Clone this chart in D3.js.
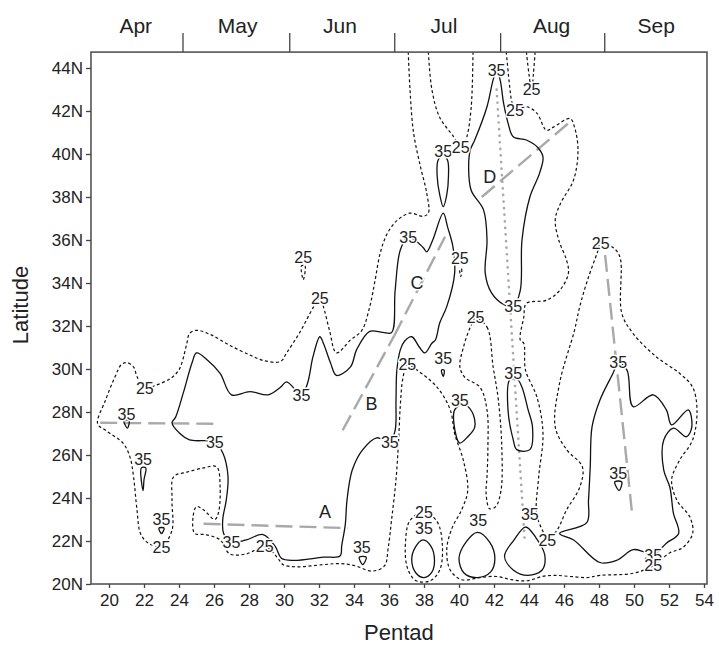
<!DOCTYPE html>
<html>
<head>
<meta charset="utf-8">
<script src="https://cdn.jsdelivr.net/npm/d3@7"></script>
<style>
body { margin: 0; background: #fff; }
text { font-family: "Liberation Sans", Arial, sans-serif; }
</style>
</head>
<body>
<script>
// frame extents (pentad, latitude)
var pentadLo = 18.97, pentadHi = 54.17, latLo = 20, latHi = 44.74;
var xTicks = d3.range(20, 55, 2);
var yTicks = d3.range(20, 45, 2);
var months = ["Apr", "May", "Jun", "Jul", "Aug", "Sep"];
var monthMid = [21.53, 27.35, 33.2, 39.14, 45.29, 51.27];
var monthEdge = [24.2, 30.3, 36.3, 42.35, 48.3];

// 25 contour, open lines [pentad, lat]
var c25lines = [
  // the long one: top edge, round the west, along the bottom, round Sep
  [[37.1,44.75],[37.2,43.0],[37.4,41.0],[37.8,39.4],[38.15,38.2],[38.25,37.25],[37.95,37.1],[37.2,37.25],
   [36.45,36.9],[35.9,36.3],[35.5,35.4],[35.2,34.1],[34.9,32.9],[34.45,31.8],[33.8,31.35],[33.0,30.75],
   [32.6,31.8],[32.25,32.9],[32.05,33.3],[31.7,32.9],[30.9,31.7],[30.15,30.75],[29.8,30.35],[28.8,30.4],
   [28.05,30.65],[26.9,31.1],[25.8,31.6],[25.0,31.8],[24.6,31.65],[24.45,31.2],[24.15,30.25],[23.95,29.9],
   [23.5,29.55],[22.7,29.25],[22.05,29.1],[21.6,29.65],[21.4,30.1],[21.0,30.3],[20.7,30.2],[20.35,29.65],
   [19.8,28.55],[19.35,27.45],[19.8,27.15],[20.8,26.55],[21.2,25.9],[21.4,25.0],[21.6,23.45],[21.8,22.35],
   [22.25,21.9],[23.0,21.75],[23.6,22.5],[23.6,23.9],[23.7,25.0],[24.45,25.2],[25.4,25.4],[26.15,25.45],
   [26.35,24.5],[26.25,23.3],[26.05,23.0],[25.4,23.45],[25.0,23.6],[24.8,23.1],[24.9,22.35],[25.5,22.3],
   [26.35,22.05],[26.9,21.4],[27.85,21.4],[28.9,21.75],[29.6,21.25],[29.95,20.9],[30.7,20.8],[32.25,20.9],
   [33.2,20.95],[34.05,20.85],[35.05,20.6],[35.75,20.85],[35.95,21.65],[36.15,23.0],[36.4,24.85],[36.55,26.7],
   [36.65,28.35],[36.8,29.6],[37.05,30.2],[37.6,29.95],[38.75,29.15],[39.5,28.1],[39.75,27.0],[40.25,25.75],
   [40.5,24.35],[40.15,23.45],[39.6,22.6],[39.3,21.6],[39.5,20.65],[40.15,20.2],[41.2,20.3],[42.15,20.35],
   [43.0,20.2],[43.9,20.15],[44.75,20.35],[45.5,20.4],[46.35,20.35],[47.3,20.3],[48.05,20.4],[49.95,20.5],
   [51.1,20.85],[52.05,21.45],[52.8,21.7],[53.35,22.35],[53.2,23.1],[52.45,23.9],[52.15,24.85],[52.6,25.75],
   [53.35,26.7],[53.6,28.1],[53.35,29.15],[52.6,29.8],[51.3,30.55],[49.95,31.65],[49.3,32.6],[49.2,35.2],
   [48.8,35.65],[48.1,35.85],[47.9,35.4],[47.35,34.15],[46.9,32.9],[46.6,31.8],[45.75,29.35],[45.5,27.3],
   [46.15,26.25],[47.05,25.45],[46.9,24.5],[46.15,23.45],[45.6,22.5],[45.05,22.05]],
  // east of D, from the top edge down to the saddle near 45/22
  [[42.7,44.75],[42.9,43.1],[43.0,42.5],[43.2,42.05],[43.85,42.2],[44.45,41.9],[45.0,41.1],[45.4,41.25],
   [46.35,41.65],[46.6,41.25],[46.8,40.2],[46.55,38.8],[45.8,37.7],[45.5,36.95],[45.7,36.0],[46.15,35.05],
   [46.25,34.45],[45.75,33.65],[45.0,33.2],[43.85,33.05],[43.7,32.4],[43.5,31.35],[43.7,31.2],[43.8,29.95],
   [44.45,28.7],[44.8,27.0],[44.55,24.95],[44.45,23.2],[45.05,22.05]],
  // two tongues hanging from the top edge
  [[38.25,44.75],[38.45,43.0],[38.9,41.7],[39.7,40.8],[40.05,40.35],[40.2,40.35],[40.45,40.8],[40.7,42.2],[40.8,44.75]],
  [[43.85,44.75],[44.0,43.7],[44.15,42.9],[44.25,43.7],[44.35,44.75]]
];
// 25 contour, closed loops
var c25loops = [
  [[40.95,32.35],[41.6,31.95],[41.95,30.1],[42.25,28.55],[42.45,26.25],[42.4,24.35],[42.1,23.6],[41.75,23.5],
   [41.55,24.2],[41.6,25.0],[41.65,26.25],[41.6,28.1],[41.2,29.15],[40.35,29.6],[40.05,30.1],[40.25,31.0],[40.65,31.95]],
  [[38.0,23.35],[38.75,22.9],[39.05,21.8],[38.9,20.65],[38.35,20.15],[37.55,20.15],[37.05,20.75],[36.95,22.05],[37.2,22.95]],
  [[31.0,34.8],[31.2,34.8],[31.1,34.15]],
  [[40.05,34.65],[40.15,34.65],[40.1,34.3]]
];
// 35 contour, closed loops
var c35loops = [
  [[31.0,28.8],[31.35,29.35],[31.65,30.55],[32.05,31.5],[32.25,31.2],[32.65,30.3],[33.0,29.7],[33.8,30.1],
   [34.15,30.9],[34.9,31.75],[35.65,31.7],[36.15,31.7],[36.35,33.65],[36.65,35.55],[37.1,36.15],[37.95,35.65],
   [38.15,35.45],[38.5,36.0],[39.1,37.25],[39.35,36.6],[39.65,35.7],[39.75,34.45],[39.3,32.9],[38.9,32.15],
   [38.65,31.35],[38.45,31.2],[38.05,30.75],[37.75,31.0],[37.3,31.5],[36.9,31.3],[36.65,30.9],[36.45,29.95],
   [36.4,28.55],[36.35,27.15],[36.05,26.6],[35.3,26.8],[34.5,26.25],[33.9,25.3],[33.6,23.9],[33.5,22.75],
   [33.3,21.8],[33.2,21.3],[32.25,21.25],[30.55,21.1],[29.85,21.2],[29.5,21.75],[28.8,22.3],[27.85,22.05],
   [27.0,21.95],[26.55,22.35],[26.5,23.0],[26.7,23.9],[26.8,25.0],[26.5,26.1],[26.05,26.6],[24.6,26.7],
   [24.05,27.0],[23.6,27.5],[23.8,27.75],[24.25,28.9],[24.75,30.3],[25.0,30.75],[25.65,30.4],[26.35,29.8],
   [27.0,28.8],[28.05,28.95],[29.1,28.8],[29.8,29.15],[30.15,29.4]],
  [[39.1,39.95],[38.8,39.7],[38.75,39.0],[38.9,38.1],[39.1,37.55],[39.3,38.1],[39.4,39.0],[39.35,39.7]],
  [[42.15,43.9],[42.35,43.45],[42.55,42.35],[42.8,41.45],[43.1,40.8],[43.85,40.65],[44.5,40.3],[44.8,39.85],
   [44.6,39.1],[44.05,38.0],[43.6,36.0],[43.5,33.65],[43.1,32.9],[42.55,33.0],[41.85,33.55],[41.5,34.45],
   [41.6,36.0],[41.4,37.4],[40.7,38.3],[40.55,39.4],[40.65,40.2],[40.9,40.65],[41.6,42.2],[41.95,43.45]],
  [[42.9,29.5],[42.8,28.1],[43.1,26.7],[43.3,26.25],[44.05,26.25],[44.2,27.3],[43.95,28.1],[43.6,29.15],[43.35,29.5]],
  [[39.75,28.1],[39.85,26.85],[40.05,26.55],[40.5,26.85],[40.9,27.3],[40.75,28.0],[40.25,28.35]],
  [[49.1,30.3],[49.6,29.95],[49.95,28.25],[51.1,28.8],[51.85,28.1],[52.15,27.4],[53.1,28.1],[53.3,27.3],
   [53.0,26.85],[52.25,27.25],[51.7,26.7],[51.7,25.3],[52.05,24.5],[52.25,23.3],[52.55,22.35],[51.85,21.9],
   [51.1,21.35],[50.55,21.5],[49.95,21.6],[49.0,21.1],[48.05,21.0],[46.55,22.05],[45.75,22.35],[47.3,22.85],
   [47.4,23.9],[47.5,25.45],[47.6,27.3],[48.05,28.55],[48.8,29.8]],
  [[37.95,22.05],[38.4,21.75],[38.6,21.1],[38.45,20.55],[38.0,20.3],[37.55,20.5],[37.3,21.1],[37.5,21.7]],
  [[41.05,22.4],[41.75,21.95],[42.05,21.2],[41.8,20.55],[41.05,20.3],[40.3,20.5],[40.0,21.2],[40.4,21.95]],
  [[43.8,22.65],[44.4,22.15],[44.9,21.35],[44.75,20.65],[43.95,20.4],[43.1,20.65],[42.6,21.3],[43.15,22.05]],
  [[20.85,27.6],[21.15,27.6],[21.05,27.25]],
  [[21.85,25.4],[22.1,25.4],[22.0,24.85],[21.95,24.35]],
  [[22.85,22.6],[23.15,22.6],[23.0,22.35]],
  [[39.0,29.95],[39.15,29.95],[39.1,29.65]],
  [[48.9,24.75],[49.3,24.75],[49.15,24.35]],
  [[34.3,21.25],[34.7,21.25],[34.5,20.9]]
];
// contour labels [pentad, lat, text]
var contourLabels = [
  [21.0,27.9,"35"],[22.05,29.1,"25"],[21.95,25.8,"35"],[23.0,23.0,"35"],[23.0,21.7,"25"],
  [27.0,21.95,"35"],[28.9,21.75,"25"],[26.05,26.6,"35"],[31.0,28.8,"35"],[32.05,33.3,"25"],
  [31.1,35.2,"25"],[37.1,36.15,"35"],[39.1,40.15,"35"],[40.1,40.3,"25"],[40.05,35.15,"25"],
  [42.15,43.9,"35"],[44.15,43.0,"25"],[43.2,42.05,"25"],[43.1,32.9,"35"],[37.05,30.2,"25"],
  [36.05,26.6,"35"],[40.95,32.4,"25"],[39.1,30.5,"35"],[40.05,28.55,"35"],[43.1,29.8,"35"],
  [48.1,35.85,"25"],[49.1,30.3,"35"],[49.1,25.15,"35"],[51.1,21.35,"35"],[51.1,20.85,"25"],
  [38.0,23.35,"25"],[38.0,22.6,"35"],[41.1,22.95,"35"],[44.05,23.25,"35"],[45.05,22.05,"25"],
  [34.45,21.7,"35"]
];
// grey rain-belt lines
var grayDash = [
  [[19.5,27.5],[26.2,27.45]],
  [[25.4,22.8],[33.65,22.6]],
  [[33.35,27.15],[36.3,31.55]],
  [[36.3,31.55],[39.2,36.15]],
  [[41.3,38.0],[46.35,41.5]],
  [[48.35,35.3],[49.9,23.2]]
];
var grayDot = [[42.15,43.0],[43.75,22.05]];
var letters = [[32.35,23.35,"A"],[35.0,28.4,"B"],[37.6,34.0,"C"],[41.75,38.95,"D"]];

var W = 719, H = 648;
var svg = d3.select("body").append("svg").attr("width", W).attr("height", H);

var x = d3.scaleLinear().domain([20, 54]).range([109, 704]);
var y = d3.scaleLinear().domain([20, 44]).range([584, 68]);

var fx0 = x(pentadLo), fx1 = x(pentadHi), fy0 = y(latHi), fy1 = y(latLo);

svg.append("clipPath").attr("id", "plot")
  .append("rect").attr("x", fx0).attr("y", fy0).attr("width", fx1 - fx0).attr("height", fy1 - fy0);

var plot = svg.append("g").attr("clip-path", "url(#plot)");

var openLine = d3.line().x(function(d) { return x(d[0]); }).y(function(d) { return y(d[1]); })
  .curve(d3.curveCatmullRom.alpha(0.5));
var loopLine = d3.line().x(function(d) { return x(d[0]); }).y(function(d) { return y(d[1]); })
  .curve(d3.curveCatmullRomClosed.alpha(0.5));
var straight = d3.line().x(function(d) { return x(d[0]); }).y(function(d) { return y(d[1]); });

// grey lines underneath
plot.selectAll(".gd").data(grayDash).enter().append("path")
  .attr("d", straight).attr("fill", "none").attr("stroke", "#a9a9a9")
  .attr("stroke-width", 2.4).attr("stroke-dasharray", "17,7");
plot.append("path").attr("d", straight(grayDot)).attr("fill", "none")
  .attr("stroke", "#a9a9a9").attr("stroke-width", 2.6)
  .attr("stroke-linecap", "round").attr("stroke-dasharray", "0.1,6.5");

plot.selectAll(".c25").data(c25lines).enter().append("path")
  .attr("d", openLine).attr("fill", "none").attr("stroke", "#111")
  .attr("stroke-width", 1.2).attr("stroke-dasharray", "3,2.5");
plot.selectAll(".c25l").data(c25loops).enter().append("path")
  .attr("d", loopLine).attr("fill", "none").attr("stroke", "#111")
  .attr("stroke-width", 1.2).attr("stroke-dasharray", "3,2.5");
plot.selectAll(".c35").data(c35loops).enter().append("path")
  .attr("d", loopLine).attr("fill", "none").attr("stroke", "#111")
  .attr("stroke-width", 1.3);

plot.selectAll(".lab").data(contourLabels).enter().append("text")
  .attr("x", function(d) { return x(d[0]); })
  .attr("y", function(d) { return y(d[1]); })
  .attr("dy", "0.36em").attr("text-anchor", "middle")
  .attr("font-size", 16).attr("fill", "#222")
  .attr("stroke", "#fff").attr("stroke-width", 3).attr("paint-order", "stroke")
  .text(function(d) { return d[2]; });

plot.selectAll(".let").data(letters).enter().append("text")
  .attr("x", function(d) { return x(d[0]); })
  .attr("y", function(d) { return y(d[1]); })
  .attr("dy", "0.36em").attr("text-anchor", "middle")
  .attr("font-size", 18).attr("fill", "#222")
  .attr("stroke", "#fff").attr("stroke-width", 3).attr("paint-order", "stroke")
  .text(function(d) { return d[2]; });

// frame
svg.append("rect").attr("x", fx0).attr("y", fy0).attr("width", fx1 - fx0).attr("height", fy1 - fy0)
  .attr("fill", "none").attr("stroke", "#555").attr("stroke-width", 1.6);

// axes
var xAxis = svg.append("g").attr("transform", "translate(0," + fy1 + ")")
  .call(d3.axisBottom(x).tickValues(xTicks).tickSize(4).tickPadding(6));
var yAxis = svg.append("g").attr("transform", "translate(" + fx0 + ",0)")
  .call(d3.axisLeft(y).tickValues(yTicks).tickSize(5).tickPadding(3)
    .tickFormat(function(d) { return d + "N"; }));
var mAxis = svg.append("g").attr("transform", "translate(0," + fy0 + ")")
  .call(d3.axisTop(x).tickValues(monthEdge).tickSize(19).tickFormat(""));
[xAxis, yAxis, mAxis].forEach(function(a) {
  a.select(".domain").remove();
  a.selectAll("line").attr("stroke", "#444").attr("stroke-width", 1.3);
  a.selectAll("text").attr("font-family", "Liberation Sans, Arial, sans-serif")
    .attr("font-size", 17).attr("fill", "#222");
});

svg.selectAll(".month").data(months).enter().append("text")
  .attr("x", function(d, i) { return x(monthMid[i]); })
  .attr("y", 33).attr("text-anchor", "middle")
  .attr("font-size", 21).attr("fill", "#222")
  .text(function(d) { return d; });

svg.append("text").attr("x", (fx0 + fx1) / 2).attr("y", 640)
  .attr("text-anchor", "middle").attr("font-size", 22).attr("fill", "#222").text("Pentad");
svg.append("text").attr("transform", "translate(28,305) rotate(-90)")
  .attr("text-anchor", "middle").attr("font-size", 22).attr("fill", "#222").text("Latitude");
</script>
</body>
</html>
